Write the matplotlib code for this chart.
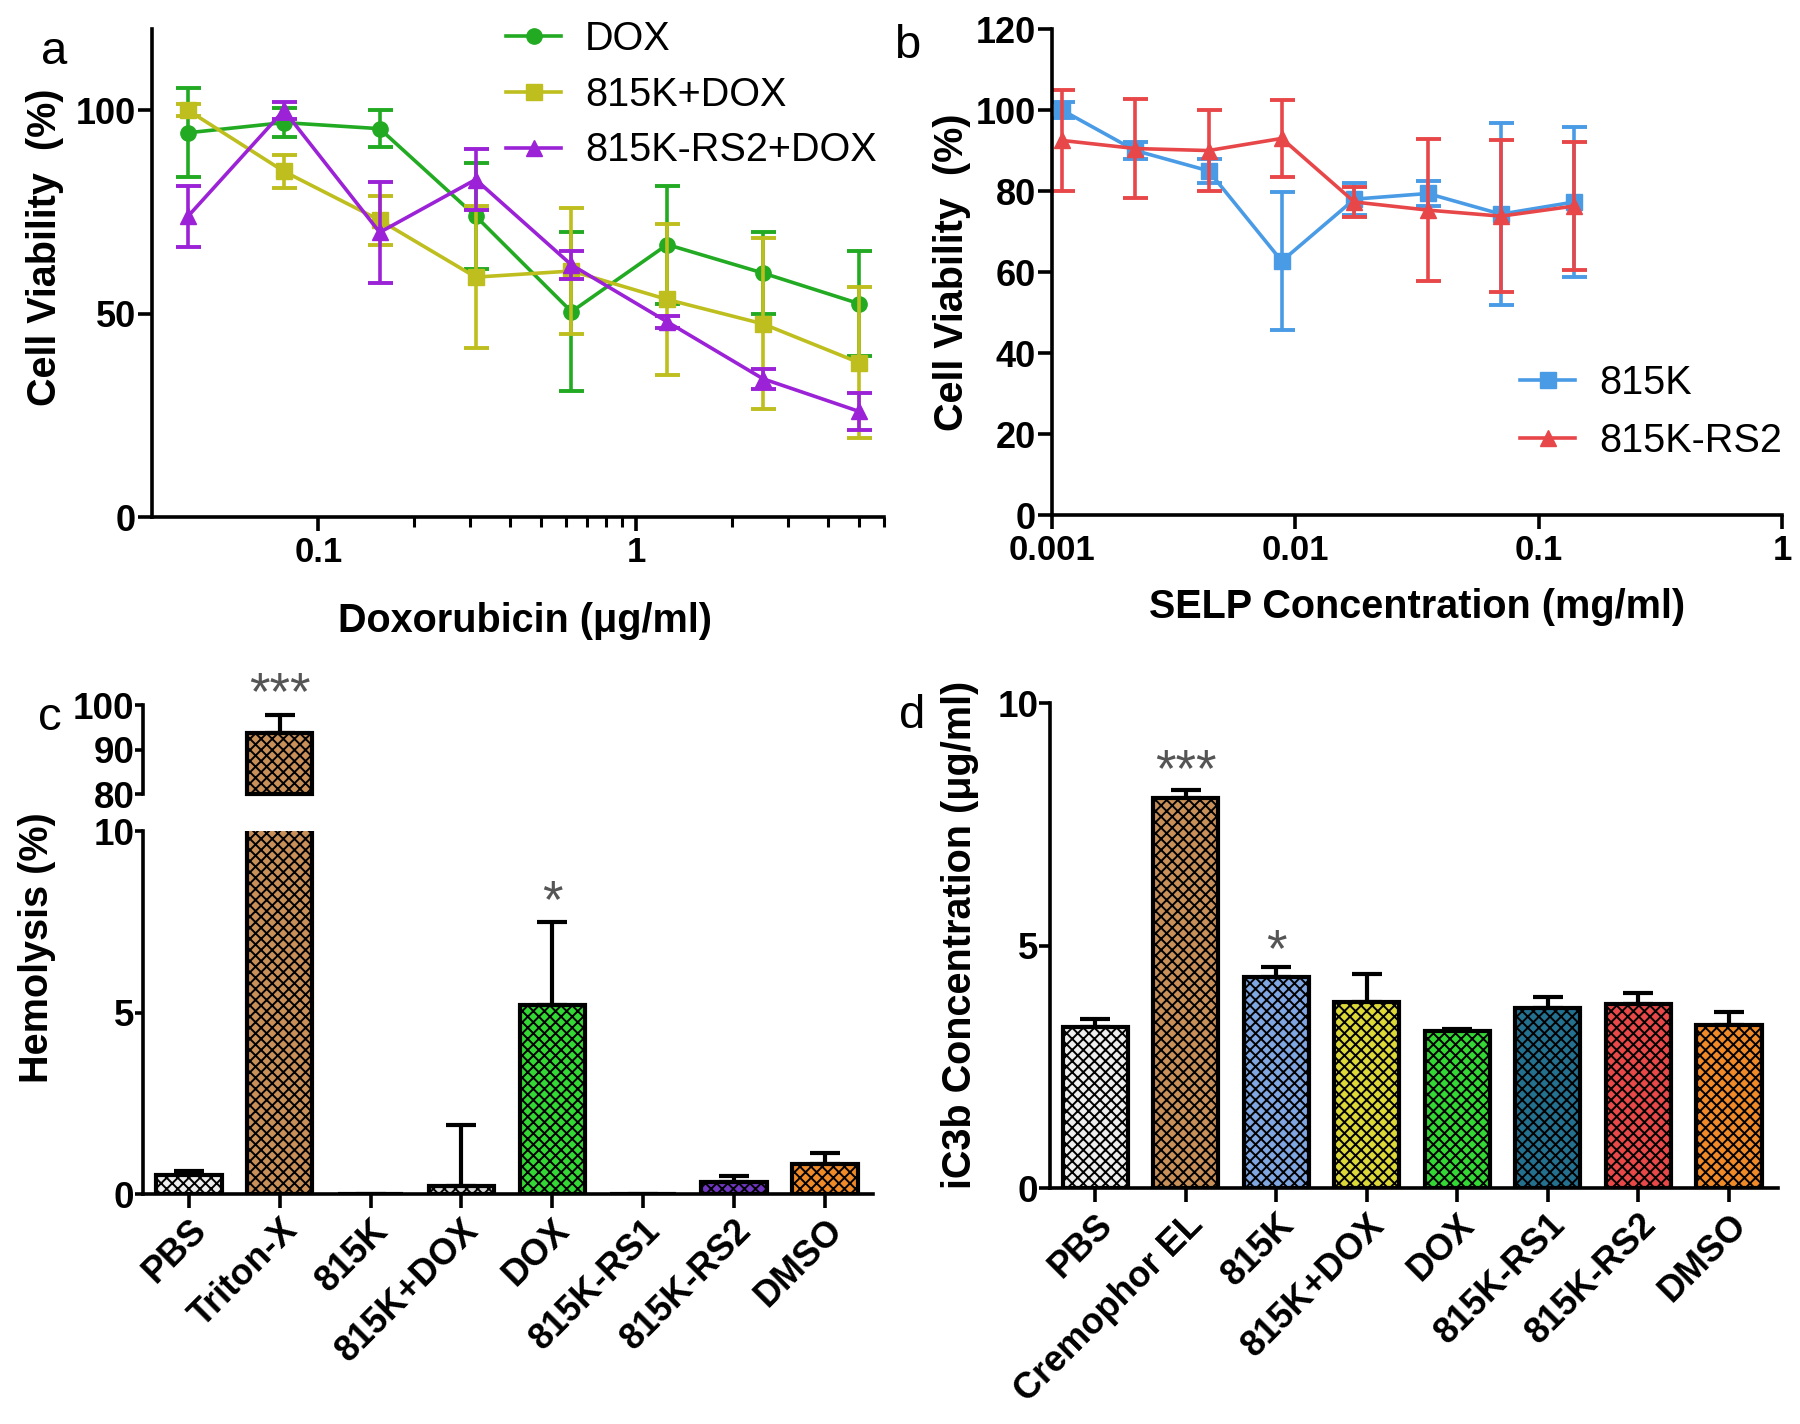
import numpy as np
import matplotlib
matplotlib.use('Agg')
import matplotlib.pyplot as plt
from matplotlib.ticker import FixedLocator, NullFormatter

plt.rcParams['font.family'] = ['Liberation Sans', 'DejaVu Sans']
plt.rcParams['font.weight'] = 'bold'
plt.rcParams['axes.labelweight'] = 'bold'
plt.rcParams['hatch.linewidth'] = 1.4

# ---- panel a: cell viability vs doxorubicin
dox_conc = [0.039, 0.078, 0.156, 0.3125, 0.625, 1.25, 2.5, 5.0]
dox_mean = [94.5, 97, 95.5, 74, 50.5, 67, 60, 52.5]
dox_err = [11, 3.5, 4.5, 13, 19.5, 14.5, 10, 13]
k_dox_mean = [100, 85, 73, 59, 60.5, 53.5, 47.5, 38]
k_dox_err = [1.5, 4, 6, 17.5, 15.5, 18.5, 21, 18.5]
rs2_dox_mean = [74, 100, 70, 83, 62, 48, 34, 26]
rs2_dox_err = [7.5, 2, 12.5, 7.5, 3.5, 1.5, 2.5, 4.5]

# ---- panel b: cell viability vs SELP
selp_conc = [0.0011, 0.0022, 0.0044, 0.0088, 0.0175, 0.035, 0.07, 0.14]
k_mean = [100, 90, 85, 62.7, 78, 79.4, 74.3, 77.3]
k_err = [2, 2, 3, 17, 4, 3, 22.5, 18.5]
rs2_mean = [92.5, 90.5, 90, 93, 77.3, 75.3, 73.8, 76.3]
rs2_err = [12.5, 12.3, 10, 9.5, 3.8, 17.6, 18.7, 15.9]

# ---- panel c: hemolysis
hemo_groups = ['PBS', 'Triton-X', '815K', '815K+DOX', 'DOX', '815K-RS1', '815K-RS2', 'DMSO']
hemo_mean = [0.52, 93.8, 0.0, 0.22, 5.2, 0.0, 0.32, 0.83]
hemo_err = [0.11, 4.0, 0.0, 1.68, 2.3, 0.0, 0.18, 0.29]
hemo_colors = ['#eeeeee', '#c89058', '#eeeeee', '#d8d8d8', '#34d834', '#eeeeee', '#7038c0', '#f08a28']

# ---- panel d: iC3b
ic3b_groups = ['PBS', 'Cremophor EL', '815K', '815K+DOX', 'DOX', '815K-RS1', '815K-RS2', 'DMSO']
ic3b_mean = [3.32, 8.06, 4.35, 3.84, 3.25, 3.73, 3.80, 3.37]
ic3b_err = [0.18, 0.16, 0.21, 0.58, 0.03, 0.21, 0.24, 0.26]
ic3b_colors = ['#eeeeee', '#c89058', '#7fa6e0', '#dcd838', '#34d834', '#23708f', '#e84848', '#f08a28']

green = '#22aa22'
olive = '#bebe1e'
purple = '#9b22d6'
blue = '#4a9be6'
red = '#e8474a'

fig = plt.figure(figsize=(18, 14.24), dpi=100)


def style_axes(ax, xsize=25, ysize=26, ylen=10, ypad=1.5):
    for s in ['top', 'right']:
        ax.spines[s].set_visible(False)
    for s in ['left', 'bottom']:
        ax.spines[s].set_linewidth(2.6)
    ax.tick_params(direction='out', length=10, width=2.6)
    ax.tick_params(axis='x', labelsize=xsize)
    ax.tick_params(axis='y', length=ylen, pad=ypad, labelsize=ysize)
    ax.tick_params(which='minor', direction='out', length=7, width=2.2)


# panel a
ax_a = fig.add_axes([0.0844, 0.6369, 0.4067, 0.3427])
for m, e, c, mk, lab in [(dox_mean, dox_err, green, 'o', 'DOX'),
                         (k_dox_mean, k_dox_err, olive, 's', '815K+DOX'),
                         (rs2_dox_mean, rs2_dox_err, purple, '^', '815K-RS2+DOX')]:
    ax_a.errorbar(dox_conc, m, yerr=e, fmt='none', ecolor=c, elinewidth=2.6,
                  capsize=9, capthick=2.8)
    ax_a.plot(dox_conc, m, color=c, lw=2.6, marker=mk, ms=11, label=lab)
ax_a.set_xscale('log')
ax_a.set_xlim(0.03, 6.0)
ax_a.set_ylim(0, 120)
ax_a.set_yticks([0, 50, 100])
ax_a.xaxis.set_major_locator(FixedLocator([0.1, 1]))
ax_a.set_xticklabels(['0.1', '1'])
ax_a.xaxis.set_minor_locator(FixedLocator([0.2, 0.3, 0.4, 0.5, 0.6, 0.7, 0.8, 0.9, 2, 3, 4, 5, 6]))
ax_a.xaxis.set_minor_formatter(NullFormatter())
style_axes(ax_a)
ax_a.set_xlabel('Doxorubicin (μg/ml)', fontsize=28.5)
ax_a.set_ylabel('Cell Viability  (%)', fontsize=28.5)
ax_a.xaxis.set_label_coords(0.51, -0.175)
ax_a.yaxis.set_label_coords(-0.12, 0.553)
ax_a.legend(loc='upper left', bbox_to_anchor=(486 / 1800, 1 - 0 / 1424),
            bbox_transform=fig.transFigure, frameon=False, borderpad=0,
            handlelength=1.4, handletextpad=0.6, labelspacing=0.45,
            prop={'weight': 'normal', 'size': 28.5})

# panel b
ax_b = fig.add_axes([0.5844, 0.6383, 0.4056, 0.3413])
for m, e, c, mk, lab in [(k_mean, k_err, blue, 's', '815K'),
                         (rs2_mean, rs2_err, red, '^', '815K-RS2')]:
    ax_b.errorbar(selp_conc, m, yerr=e, fmt='none', ecolor=c, elinewidth=2.6,
                  capsize=9, capthick=2.8)
    ax_b.plot(selp_conc, m, color=c, lw=2.6, marker=mk, ms=11, label=lab)
ax_b.set_xscale('log')
ax_b.set_xlim(0.001, 1)
ax_b.set_ylim(0, 120)
ax_b.set_yticks(np.arange(0, 121, 20))
ax_b.xaxis.set_major_locator(FixedLocator([0.001, 0.01, 0.1, 1]))
ax_b.set_xticklabels(['0.001', '0.01', '0.1', '1'])
ax_b.xaxis.set_minor_locator(FixedLocator([]))
style_axes(ax_b)
ax_b.set_xlabel('SELP Concentration (mg/ml)', fontsize=28.5)
ax_b.set_ylabel('Cell Viability  (%)', fontsize=28.5)
ax_b.xaxis.set_label_coords(0.5, -0.15)
ax_b.yaxis.set_label_coords(-0.111, 0.5)
ax_b.legend(loc='upper left', bbox_to_anchor=(1500 / 1800, 1 - 344 / 1424),
            bbox_transform=fig.transFigure, frameon=False, borderpad=0,
            handlelength=1.4, handletextpad=0.6, labelspacing=0.5,
            prop={'weight': 'normal', 'size': 28.5})

# panel c (broken y axis)
xc = np.arange(len(hemo_groups))
ax_c = fig.add_axes([0.0797, 0.1615, 0.4053, 0.2546])
ax_c2 = fig.add_axes([0.0797, 0.4424, 0.4053, 0.0625])
hemo_show = [e if e > 0 else np.nan for e in hemo_err]
hemo_upper = np.array([m if m > 80 else np.nan for m in hemo_mean])

ax_c.bar(xc, hemo_mean, width=0.72, color=hemo_colors, edgecolor='black',
         linewidth=3, hatch='xxx', zorder=2)
ax_c2.bar(xc, hemo_upper - 80, bottom=80, width=0.72, color=hemo_colors,
          edgecolor='black', linewidth=3, hatch='xxx', zorder=2, clip_on=False)
for ax in (ax_c, ax_c2):
    ax.errorbar(xc, hemo_mean, yerr=[np.zeros(len(xc)), hemo_show], fmt='none',
                ecolor='black', elinewidth=3, capsize=11, capthick=3, zorder=1)
    ax.set_xlim(-0.5, 7.53)
    style_axes(ax, xsize=26, ysize=26.5, ylen=6, ypad=0.5)
ax_c.set_ylim(0, 10)
ax_c.set_yticks([0, 5, 10])
ax_c.set_xticks(xc)
ax_c.set_xticklabels(hemo_groups, rotation=45, ha='right', rotation_mode='anchor')
ax_c2.set_ylim(80, 100)
ax_c2.set_yticks([80, 90, 100])
ax_c2.spines['bottom'].set_visible(False)
ax_c2.set_xticks([])
ax_c.set_ylabel('Hemolysis (%)', fontsize=28.5)
ax_c.yaxis.set_label_coords(-0.12, 0.68)
ax_c2.annotate('***', xy=(1, hemo_mean[1] + hemo_err[1]), xytext=(0, -4),
               textcoords='offset points', ha='center', va='bottom',
               fontsize=38, fontweight='normal', color='#555555')
ax_c.annotate('*', xy=(4, hemo_mean[4] + hemo_err[4]), xytext=(0, -4),
              textcoords='offset points', ha='center', va='bottom',
              fontsize=38, fontweight='normal', color='#555555')

# panel d
xd = np.arange(len(ic3b_groups))
ax_d = fig.add_axes([0.5833, 0.1654, 0.4044, 0.3406])
ax_d.bar(xd, ic3b_mean, width=0.72, color=ic3b_colors, edgecolor='black',
         linewidth=3, hatch='xxx', zorder=2)
ax_d.errorbar(xd, ic3b_mean, yerr=[np.zeros(len(xd)), ic3b_err], fmt='none',
              ecolor='black', elinewidth=3, capsize=11, capthick=3, zorder=1)
ax_d.set_xlim(-0.5, 7.54)
ax_d.set_ylim(0, 10)
ax_d.set_yticks([0, 5, 10])
style_axes(ax_d, xsize=26, ysize=26.5, ylen=8, ypad=0.5)
ax_d.set_xticks(xd)
ax_d.set_xticklabels(ic3b_groups, rotation=45, ha='right', rotation_mode='anchor')
ax_d.set_ylabel('iC3b Concentration (μg/ml)', fontsize=28.5)
ax_d.yaxis.set_label_coords(-0.0975, 0.523)
ax_d.annotate('***', xy=(1, ic3b_mean[1] + ic3b_err[1]), xytext=(0, -5),
              textcoords='offset points', ha='center', va='bottom',
              fontsize=38, fontweight='normal', color='#555555')
ax_d.annotate('*', xy=(2, ic3b_mean[2] + ic3b_err[2]), xytext=(0, -7),
              textcoords='offset points', ha='center', va='bottom',
              fontsize=38, fontweight='normal', color='#555555')

# panel letters
for lx, ly, t in [(54, 52, 'a'), (907, 46, 'b'), (50, 718, 'c'), (912, 716, 'd')]:
    fig.text(lx / 1800, 1 - ly / 1424, t, fontsize=34, fontweight='normal',
             ha='center', va='center')

fig.savefig('out.png', dpi=100)
